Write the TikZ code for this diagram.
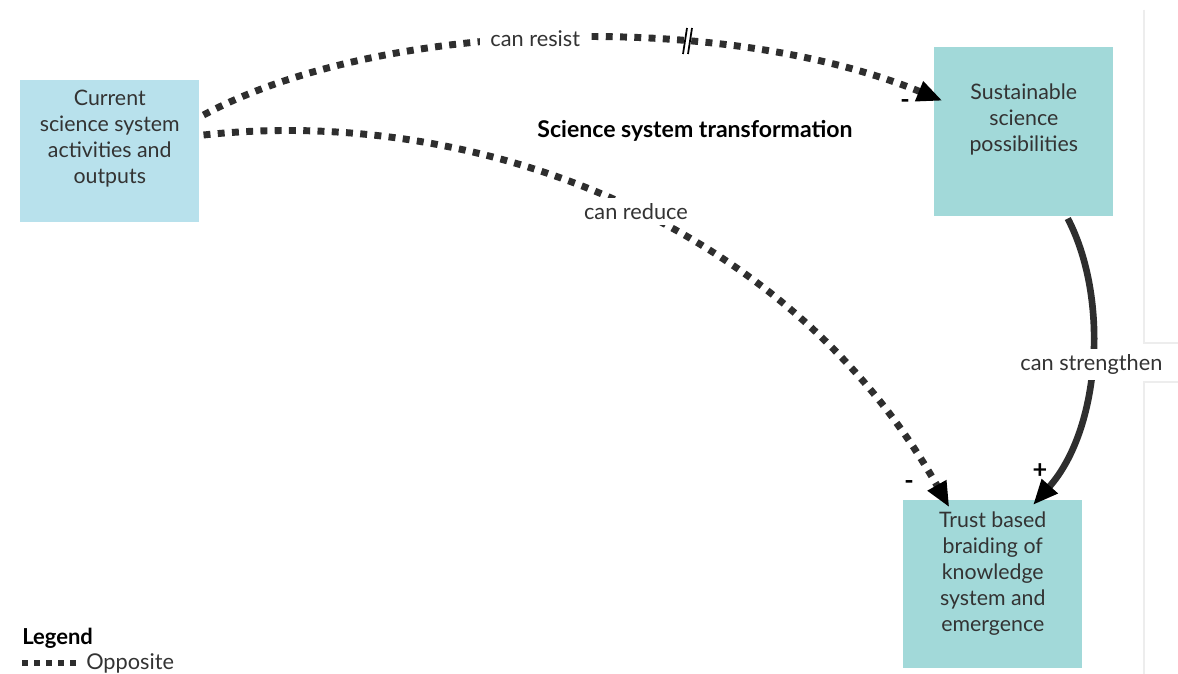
\documentclass[tikz,border=0pt]{standalone}
\usepackage{fontspec}
\setmainfont{Lato}
\usetikzlibrary{arrows.meta,calc}
\definecolor{boxblue}{HTML}{B8E1EC}
\definecolor{boxteal}{HTML}{A2D9D9}
\definecolor{ink}{HTML}{333333}
\definecolor{edge}{HTML}{2E2E2E}
\tikzset{
  concept/.style={draw=none, minimum width=179*0.75pt, inner sep=0pt, anchor=north west},
  boxtext/.style={text=ink, align=center, font=\fontsize{16}{19.5}\selectfont, anchor=north, inner sep=0pt},
  linklabel/.style={fill=white, text=ink, font=\fontsize{16.3}{18}\selectfont, inner xsep=8pt, inner ysep=4pt},
  opposite/.style={draw=edge, line width=5.2pt, dash pattern=on 5.2pt off 5.5pt,
    -{Triangle[length=19pt, width=15pt, color=black]}, shorten >=-2pt},
  same/.style={draw=edge, line width=5pt,
    -{Triangle[length=19pt, width=15pt, color=black]}},
  polarity/.style={font=\bfseries\fontsize{19}{19}\selectfont, text=black, inner sep=0pt}
}
\begin{document}
\begin{tikzpicture}[x=0.75pt, y=-0.75pt]
\useasboundingbox (0,0) rectangle (1178,674);
\fill[white] (0,0) rectangle (1178,674);

% faint panel edge on the right
\draw[black!7, line width=0.8pt] (1144,10) -- (1144,343) -- (1178,343);
\draw[black!7, line width=0.8pt] (1178,382) -- (1144,382) -- (1144,674);

% concept boxes
\node[concept, fill=boxblue, minimum height=142*0.75pt] (cur) at (20,80) {};
\node[concept, fill=boxteal, minimum height=169*0.75pt] (sus) at (934,47) {};
\node[concept, fill=boxteal, minimum height=168*0.75pt] (tru) at (903,500) {};

\node[boxtext] (curtxt) at ($(cur.north)+(0,10)$) {Current\\science system\\activities and\\outputs};
\node[boxtext] (sustxt) at ($(sus.north)+(0,37)$) {Sustainable\\science\\possibilities};
\node[boxtext] (trutxt) at ($(tru.north)+(0,12)$) {Trust based\\braiding of\\knowledge\\system and\\emergence};

% title
\node[font=\bfseries\fontsize{17.3}{19}\selectfont, text=black, inner sep=0pt] (title) at (695,131) {Science system transformation};

% can resist
\draw[opposite] ($(cur.north east)+(4,35)$) .. controls (380,20) and (720,10) .. ($(sus.west)+(6,-32)$)
  node[pos=0.475, linklabel] (lresist) {can resist};
% delay mark on the link
\draw[black, line width=1.3pt] (683,54) -- (687,28);
\draw[black, line width=1.3pt] (688,54) -- (692,28);
\node[polarity] (mresist) at (905,104) {-};

% can reduce
\draw[opposite] ($(cur.north east)+(4,55)$) .. controls (480,105) and (790,225) .. ($(tru.north west)+(45,5)$)
  node[pos=0.52, linklabel] (lreduce) {can reduce};
\node[polarity] (mreduce) at (909,485) {-};

% can strengthen
\draw[same] ($(sus.south)+(44,2)$) .. controls (1110,300) and (1100,430) .. ($(tru.north west)+(130,5)$)
  node[pos=0.5, linklabel] (lstrength) {can strengthen};
\node[polarity] (mstrength) at (1040,471) {+};

% legend
\node[font=\bfseries\fontsize{16.5}{18}\selectfont, text=black, anchor=west, inner sep=0pt] (leg) at (22,638) {Legend};
\coordinate (legA) at (22,663);
\coordinate (legB) at (76,663);
\draw[edge, line width=4.3pt, dash pattern=on 4.5pt off 4.5pt] (legA) -- (legB);
\node[font=\fontsize{16.3}{18}\selectfont, text=ink, anchor=west, inner sep=0pt] (legtxt) at (86,663) {Opposite};
\end{tikzpicture}
\end{document}
